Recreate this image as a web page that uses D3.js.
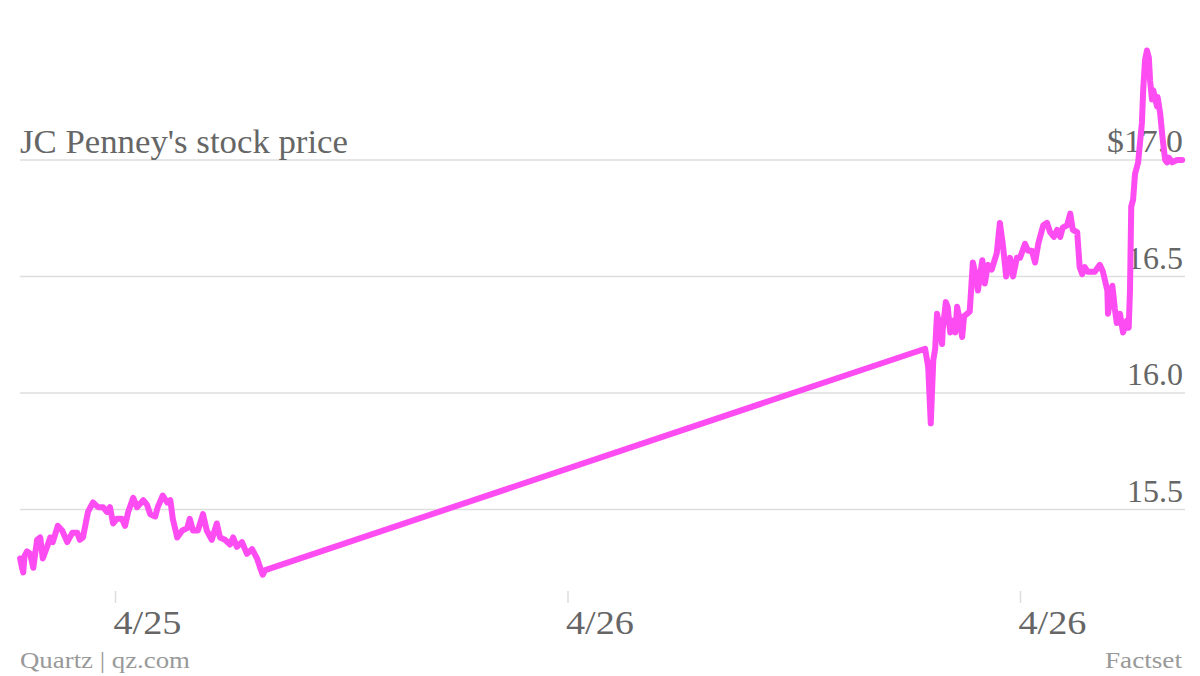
<!DOCTYPE html>
<html><head><meta charset="utf-8">
<script src="https://cdn.jsdelivr.net/npm/d3@7"></script>
<style>html,body{margin:0;padding:0;background:#fff;}svg{display:block;}</style>
</head><body>
<svg id="chart" width="1200" height="676"></svg>
<script>
// Minutes after midnight, 4/25 session
const day1Minutes = [569,572,574,576,580,585,590,596,601,605,612,617,621,629,636,644,652,660,664,669,677,685,693,701,707,712,717,723,731,736,741,749,755,765,771,776,784,788,796,803,808,812,819,827,835,839,844,852,860,866,874,882,887,895,903,908,914,922,930,938,946,951,955,959];
const day1Prices = [15.29,15.25,15.23,15.30,15.32,15.31,15.25,15.37,15.38,15.29,15.34,15.38,15.36,15.43,15.41,15.36,15.40,15.40,15.37,15.38,15.49,15.53,15.51,15.51,15.49,15.51,15.44,15.46,15.46,15.43,15.49,15.55,15.51,15.54,15.52,15.48,15.47,15.51,15.56,15.53,15.54,15.46,15.38,15.41,15.42,15.46,15.41,15.41,15.48,15.41,15.37,15.44,15.38,15.37,15.35,15.38,15.34,15.36,15.31,15.33,15.29,15.25,15.22,15.24];
// Minutes after midnight, 4/26 session
const day2Minutes = [569,574,578,582,585,588,591,596,597,602,605,609,613,617,620,623,628,631,636,640,645,650,653,660,664,669,675,683,688,693,698,704,709,715,720,728,733,739,744,749,757,763,768,774,779,784,788,795,800,804,811,815,819,823,828,835,839,847,852,859,860,867,871,874,879,884,890,893,895,897,900,903,908,914,916,919,922,925,927,930,932,938,939,943,947,951,954,957,962,970,978];
const day2Prices = [16.19,16.11,15.87,16.14,16.19,16.34,16.30,16.21,16.27,16.39,16.37,16.26,16.31,16.26,16.37,16.33,16.24,16.33,16.34,16.35,16.56,16.50,16.44,16.57,16.47,16.55,16.53,16.60,16.73,16.63,16.50,16.58,16.50,16.58,16.58,16.64,16.61,16.61,16.56,16.64,16.72,16.73,16.69,16.67,16.70,16.67,16.71,16.72,16.77,16.70,16.69,16.54,16.51,16.54,16.52,16.52,16.52,16.55,16.52,16.44,16.34,16.46,16.36,16.30,16.34,16.26,16.31,16.28,16.44,16.80,16.83,16.94,16.99,17.16,17.30,17.43,17.47,17.44,17.34,17.26,17.30,17.23,17.27,17.20,17.09,17.00,16.99,17.01,16.99,17.00,17.00];
const yTicks = [15.5, 16.0, 16.5, 17.0];
const yTickLabels = ["15.5", "16.0", "16.5", "$17.0"];
const xTickDates = ["2013-04-25T12:00", "2013-04-26T00:00", "2013-04-26T12:00"];
const xTickLabels = ["4/25", "4/26", "4/26"];
const title = "JC Penney's stock price";
const sourceLeft = "Quartz | qz.com";
const sourceRight = "Factset";

const toDate = (day, m) => new Date(2013, 3, day, Math.floor(m / 60), m % 60);
const data = day1Minutes.map((m, i) => ({t: toDate(25, m), v: day1Prices[i]}))
  .concat(day2Minutes.map((m, i) => ({t: toDate(26, m), v: day2Prices[i]})));

const svg = d3.select("#chart");
const parse = d3.timeParse("%Y-%m-%dT%H:%M");
const x = d3.scaleTime().domain([parse(xTickDates[0]), parse(xTickDates[2])]).range([115, 1020]);
const y = d3.scaleLinear().domain([15.5, 17.0]).range([509.5, 160]);

const serif = "'Liberation Serif', 'DejaVu Serif', serif";

// gridlines
svg.append("g").selectAll("line").data(yTicks).join("line")
  .attr("x1", 20).attr("x2", 1185)
  .attr("y1", d => y(d)).attr("y2", d => y(d))
  .attr("stroke", "#dedede").attr("stroke-width", 1.5);

// y labels
svg.append("g").selectAll("text").data(yTicks).join("text")
  .attr("x", 1183).attr("y", d => y(d) - 8)
  .attr("text-anchor", "end")
  .attr("font-family", serif).attr("font-size", 32).attr("fill", "#666")
  .attr("textLength", (d, i) => i === 3 ? 76 : 56).attr("lengthAdjust", "spacingAndGlyphs")
  .text((d, i) => yTickLabels[i]);

// title
svg.append("text").attr("x", 20).attr("y", 153)
  .attr("font-family", serif).attr("font-size", 33).attr("fill", "#666")
  .attr("textLength", 328).attr("lengthAdjust", "spacingAndGlyphs")
  .text(title);

// x axis
const xAxis = d3.axisBottom(x)
  .tickValues(xTickDates.map(parse))
  .tickFormat((d, i) => xTickLabels[i])
  .tickSize(12).tickPadding(12);
const gx = svg.append("g").attr("transform", "translate(0,591)").call(xAxis);
gx.select(".domain").remove();
gx.selectAll(".tick line").attr("stroke", "#dedede").attr("stroke-width", 1.5);
gx.selectAll(".tick text")
  .attr("text-anchor", "start").attr("x", -2).attr("dy", null).attr("y", 43)
  .attr("font-family", serif).attr("font-size", 33).attr("fill", "#666")
  .attr("textLength", 68).attr("lengthAdjust", "spacingAndGlyphs");

// line
const line = d3.line().x(d => x(d.t)).y(d => y(d.v)).curve(d3.curveLinear);
svg.append("path").datum(data)
  .attr("d", line)
  .attr("fill", "none").attr("stroke", "#fd4cf1").attr("stroke-width", 6)
  .attr("stroke-linejoin", "round").attr("stroke-linecap", "round");

// footer
svg.append("text").attr("x", 20).attr("y", 668)
  .attr("font-family", serif).attr("font-size", 23).attr("fill", "#999")
  .attr("textLength", 170).attr("lengthAdjust", "spacingAndGlyphs")
  .text(sourceLeft);
svg.append("text").attr("x", 1182).attr("y", 668).attr("text-anchor", "end")
  .attr("font-family", serif).attr("font-size", 23).attr("fill", "#999")
  .attr("textLength", 77).attr("lengthAdjust", "spacingAndGlyphs")
  .text(sourceRight);
</script>
</body></html>
